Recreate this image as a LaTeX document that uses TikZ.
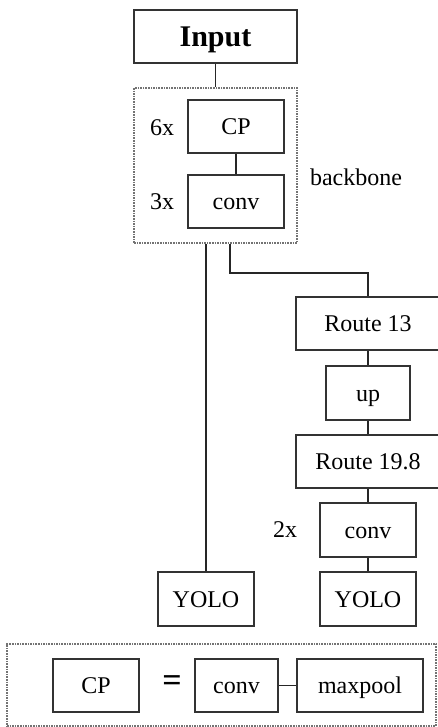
\documentclass[tikz,border=0pt]{standalone}
\usepackage{fontspec}
\setmainfont{Liberation Serif}
\begin{document}
\begin{tikzpicture}[x=1pt,y=-1pt,
  box/.style={draw=black!80, line width=2pt, minimum height=53pt, inner sep=0pt, text height=16pt, text depth=0pt, font=\fontsize{24}{26}\selectfont},
  dotbox/.style={draw=black!55, densely dotted, line width=1.6pt, inner sep=0pt},
  lbl/.style={font=\fontsize{24}{26}\selectfont, inner sep=0pt},
  conn/.style={draw=black!85, line width=1.8pt}]
\useasboundingbox (0,0) rectangle (438,727);
\node[box, minimum width=163pt, text height=20pt, font=\fontsize{30}{32}\selectfont\bfseries] (input) at (215.5,36.5) {Input};
\node[dotbox, minimum width=163pt, minimum height=155pt] (bb) at (215.5,165.5) {};
\node[box, minimum width=96pt] (cp) at (236,126.5) {CP};
\node[box, minimum width=96pt] (conv1) at (236,201.5) {conv};
\node[lbl] (l6) at (162,128) {6x};
\node[lbl] (l3) at (162,202) {3x};
\node[lbl] (lbb) at (356,177) {backbone};
\node[box, minimum width=144pt] (r13) at (368,323.5) {Route 13};
\node[box, minimum width=84pt, minimum height=54pt] (up) at (368,393) {up};
\node[box, minimum width=144pt] (r198) at (368,461.5) {Route 19.8};
\node[box, minimum width=96pt, minimum height=54pt] (conv2) at (368,530) {conv};
\node[lbl] (l2) at (285,530) {2x};
\node[box, minimum width=96pt, minimum height=54pt] (yolo1) at (206,599) {YOLO};
\node[box, minimum width=96pt, minimum height=54pt] (yolo2) at (368,599) {YOLO};
\node[dotbox, minimum width=429pt, minimum height=82pt] (legend) at (221.5,685) {};
\node[box, minimum width=86pt] (cp2) at (96,685.5) {CP};
\node[lbl, font=\fontsize{34}{36}\selectfont\bfseries] (eq) at (172,684) {=};
\node[box, minimum width=83pt] (conv3) at (236.5,685.5) {conv};
\node[box, minimum width=126pt] (mp) at (360,685.5) {maxpool};
\coordinate (turn) at (230,273);
\draw[conn] (input.south) -- (input.south |- bb.north);
\draw[conn] (cp) -- (conv1);
\draw[conn] (yolo1.north |- bb.south) -- (yolo1.north);
\draw[conn] (turn |- bb.south) -- (turn) -| (r13.north);
\draw[conn] (r13) -- (up);
\draw[conn] (up) -- (r198);
\draw[conn] (r198) -- (conv2);
\draw[conn] (conv2) -- (yolo2);
\draw[conn] (conv3) -- (mp);
\end{tikzpicture}
\end{document}
